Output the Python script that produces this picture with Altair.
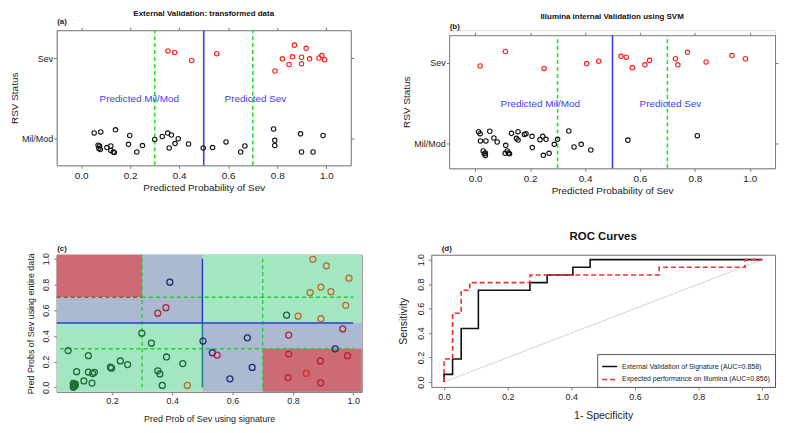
import altair as alt
import pandas as pd

FONT = "Liberation Sans Narrow, Liberation Sans, Arial, sans-serif"
FRAME = "#7a7a7a"
TXT = "#222222"

# ---------------- data ----------------
# (a) External validation
a_sev_x = [0.354, 0.381, 0.451, 0.553, 0.791, 0.821, 0.848, 0.862, 0.870, 0.899, 0.899, 0.918, 0.932, 0.970, 0.982, 0.993]
a_sev_y = [2.088, 2.07, 1.97, 2.054, 1.84, 1.99, 1.92, 2.015, 2.16, 2.01, 1.93, 2.12, 1.99, 2.0, 2.03, 1.98]
a_mil_x = [0.053, 0.080, 0.140, 0.198, 0.069, 0.075, 0.078, 0.072, 0.105, 0.121, 0.121, 0.131, 0.135, 0.193, 0.227, 0.250,
           0.300, 0.331, 0.353, 0.368, 0.359, 0.383, 0.396, 0.438, 0.498, 0.536, 0.591, 0.651, 0.668, 0.785, 0.790, 0.790,
           0.895, 0.899, 0.946, 0.987]
a_mil_y = [1.072, 1.084, 1.11, 1.04, 0.92, 0.91, 0.866, 0.88, 0.89, 0.91, 0.854, 0.835, 0.83, 0.93, 0.835, 0.915,
           0.99, 1.027, 1.07, 1.046, 0.885, 0.94, 1.0, 0.935, 0.885, 0.89, 0.96, 0.835, 0.91, 1.12, 0.98, 0.916,
           1.06, 0.835, 0.835, 1.04]

# (b) Illumina internal validation
b_sev_x = [0.018, 0.110, 0.251, 0.406, 0.450, 0.531, 0.550, 0.572, 0.618, 0.635, 0.729, 0.738, 0.773, 0.841, 0.935, 0.984]
b_sev_y = [1.96, 2.14, 1.93, 1.99, 2.02, 2.08, 2.07, 1.94, 1.975, 2.03, 2.05, 1.975, 2.13, 2.01, 2.09, 2.05]
b_mil_x = [0.012, 0.018, 0.053, 0.019, 0.039, 0.068, 0.080, 0.029, 0.037, 0.037, 0.033, 0.111, 0.109, 0.117, 0.121, 0.125,
           0.132, 0.156, 0.150, 0.156, 0.179, 0.185, 0.207, 0.208, 0.236, 0.246, 0.258, 0.248, 0.269, 0.288, 0.300,
           0.341, 0.360, 0.386, 0.421, 0.556, 0.809]
b_mil_y = [1.145, 1.12, 1.15, 1.03, 1.03, 1.067, 1.017, 0.905, 0.88, 0.85, 0.87, 0.975, 0.876, 0.905, 0.88, 0.87,
           1.124, 1.145, 1.062, 1.042, 1.11, 1.12, 1.087, 0.947, 1.046, 1.087, 1.05, 0.851, 0.876, 0.988, 1.05,
           1.153, 0.955, 0.988, 0.918, 1.04, 1.095]

threshold_x = [0.3, 0.5, 0.7]
threshold_kind = ["dash", "solid", "dash"]
ann_x = [0.237, 0.711]
ann_y = [1.49, 1.49]
ann_text = ["Predicted Mil/Mod", "Predicted Sev"]

# (c) signature vs entire data
c_x = [0.055, 0.122, 0.083, 0.122, 0.136, 0.142, 0.107, 0.134, 0.072, 0.075, 0.079, 0.073, 0.078, 0.072, 0.195, 0.199,
       0.228, 0.252, 0.299, 0.331, 0.381, 0.352, 0.359, 0.367, 0.435, 0.779,
       0.392, 0.502, 0.533, 0.649, 0.591, 0.665, 0.940,
       0.352, 0.379, 0.549, 0.786, 0.786, 0.784, 0.891, 0.892, 0.965, 0.981,
       0.866, 0.911, 0.986, 0.893, 0.926, 0.857, 0.975, 0.817, 0.893, 0.450,
       0.844]
c_y = [0.286, 0.246, 0.122, 0.119, 0.107, 0.117, 0.050, 0.033, 0.030, 0.020, 0.025, 0.008, 0.012, 0.0, 0.157, 0.149,
       0.205, 0.177, 0.421, 0.343, 0.236, 0.129, 0.104, 0.015, 0.185, 0.561,
       0.817, 0.360, 0.269, 0.385, 0.066, 0.155, 0.299,
       0.576, 0.619, 0.251, 0.406, 0.259, 0.076, 0.205, 0.035, 0.454, 0.246,
       0.995, 0.944, 0.848, 0.779, 0.743, 0.736, 0.637, 0.553, 0.533, 0.015,
       0.109]
c_grp = ["g"] * 26 + ["n"] * 7 + ["c"] * 10 + ["o"] * 10 + ["r"]
c_grp_domain = ["g", "n", "c", "o", "r"]
c_grp_colors = ["#1d6b36", "#1f2c6b", "#b52140", "#bb6c2c", "#e6282b"]

XC = [0.017, 1.028]
YC = [-0.035, 1.03]
reg_x1 = [XC[0], 0.3, XC[0], XC[0], 0.5, 0.5, 0.7]
reg_x2 = [0.3, 0.5, 0.3, 0.5, XC[1], XC[1], XC[1]]
reg_y1 = [0.7, 0.5, 0.5, YC[0], 0.5, YC[0], YC[0]]
reg_y2 = [YC[1], YC[1], 0.7, 0.5, YC[1], 0.5, 0.3]
reg_fill = ["#cd6a74", "#abb9d1", "#abb9d1", "#a3e6c1", "#a3e6c1", "#abb9d1", "#cd6a74"]

seg_x1 = [0.3, 0.7, 0.028, XC[0], 0.3, 0.5, 0.5, XC[0]]
seg_x2 = [0.3, 0.7, 1.0, 0.3, 1.0, 0.5, 0.5, 1.0]
seg_y1 = [0.0, 0.0, 0.3, 0.7, 0.7, 0.5, 0.0, 0.5]
seg_y2 = [YC[1], 1.0, 0.3, 0.7, 0.7, 1.0, 0.5, 0.5]
seg_col = ["#22cc33", "#22cc33", "#22cc33", "#8a6030", "#22cc33", "#2a3ed0", "#1f7f86", "#2a3ed0"]
seg_kind = ["dash", "dash", "dash", "dash", "dash", "solid", "solid", "solid"]

# (d) ROC curves
roc_names = ["External Validation of Signature (AUC=0.858)", "Expected performance on Illumina (AUC=0.856)"]
roc_ext_fpr = [0, 0, 0.027, 0.027, 0.054, 0.054, 0.108, 0.108, 0.270, 0.270, 0.324, 0.324, 0.405, 0.405, 0.459, 0.459, 1.0]
roc_ext_tpr = [0, 0.0625, 0.0625, 0.1875, 0.1875, 0.4375, 0.4375, 0.75, 0.75, 0.8125, 0.8125, 0.875, 0.875, 0.9375, 0.9375, 1.0, 1.0]
roc_ill_fpr = [0, 0, 0.027, 0.027, 0.054, 0.054, 0.081, 0.081, 0.270, 0.270, 0.676, 0.676, 0.946, 0.946, 1.0]
roc_ill_tpr = [0, 0.1875, 0.1875, 0.5625, 0.5625, 0.75, 0.75, 0.8125, 0.8125, 0.875, 0.875, 0.9375, 0.9375, 1.0, 1.0]
diag = [0.0, 1.0]

ticks01 = [0, 0.2, 0.4, 0.6, 0.8, 1.0]

# ---------------- layout ----------------
WA, HA = 296, 136
WB, HB, TOPB = 328, 139, 5
S1 = 99
WC, HC = 307, 138
WD, HD = 346, 133
S2 = 70
V = 35


def ax(orient, **kw):
    base = dict(orient=orient, domainColor=FRAME, tickColor=FRAME, tickSize=3, labelColor=TXT,
                titleColor=TXT, labelFont=FONT, titleFont=FONT, grid=False, titleFontWeight="normal")
    base.update(kw)
    return alt.Axis(**base)


def strip_panel(sev_x, sev_y, mil_x, mil_y, XD, YD, W, H, yrange, top_off, letter, title, title_off):
    xs = alt.Scale(domain=XD, nice=False, zero=False)
    if yrange is None:
        ys = alt.Scale(domain=YD, nice=False, zero=False)
    else:
        ys = alt.Scale(domain=YD, nice=False, zero=False, range=yrange)
    df = pd.DataFrame({"x": sev_x + mil_x, "y": sev_y + mil_y,
                       "grp": ["Sev"] * len(sev_x) + ["Mil/Mod"] * len(mil_x)})
    dfl = pd.DataFrame({"x": threshold_x, "k": threshold_kind,
                        "y1": [YD[0]] * 3, "y2": [YD[1]] * 3})
    dfa = pd.DataFrame({"x": ann_x, "y": ann_y, "t": ann_text})

    dash = alt.Chart(dfl).transform_filter("datum.k == 'dash'").mark_rule(
        color="#22e022", strokeDash=[4, 3], strokeWidth=1.6).encode(
        x=alt.X("x:Q", scale=xs, axis=None), y=alt.Y("y1:Q", scale=ys, axis=None), y2="y2:Q")
    solid = alt.Chart(dfl).transform_filter("datum.k == 'solid'").mark_rule(
        color="#3b3bff", strokeWidth=1.6).encode(
        x=alt.X("x:Q", scale=xs, axis=None), y=alt.Y("y1:Q", scale=ys, axis=None), y2="y2:Q")
    pts = alt.Chart(df).mark_point(filled=False, size=20, strokeWidth=1.1, opacity=1).encode(
        x=alt.X("x:Q", scale=xs, axis=ax("bottom", values=ticks01, format=".1f",
                                            title="Predicted Probability of Sev", labelFontSize=10,
                                            titleFontSize=10, labelPadding=2, titlePadding=2)),
        y=alt.Y("y:Q", scale=ys, axis=ax("left", values=[1, 2],
                                            labelExpr="datum.value > 1.5 ? 'Sev' : 'Mil/Mod'",
                                            title="RSV Status", labelFontSize=9, titleFontSize=10,
                                            labelPadding=1, titlePadding=2)),
        color=alt.Color("grp:N", scale=alt.Scale(domain=["Sev", "Mil/Mod"], range=["#ff1a1a", "#111111"]),
                        legend=None))
    txt = alt.Chart(dfa).mark_text(color="#3c3cff", fontSize=10, font=FONT).encode(
        x=alt.X("x:Q", scale=xs, axis=None), y=alt.Y("y:Q", scale=ys, axis=None), text="t:N")
    frame = alt.Chart(df).mark_point(opacity=0).encode(
        x=alt.X("x:Q", scale=xs, axis=ax("top", values=ticks01, labels=False, title=letter,
                                            titleAnchor="start", titleFontSize=8, titleFontWeight="bold",
                                            titlePadding=1, offset=top_off)),
        y=alt.Y("y:Q", scale=ys, axis=ax("right", values=[1, 2], labels=False, title=None)))
    return alt.layer(dash, solid, pts, txt, frame).resolve_axis(
        x="independent", y="independent").properties(
        width=W, height=H,
        title=alt.TitleParams(title, fontSize=8, fontWeight="bold", font=FONT, anchor="middle",
                              offset=title_off, color="#111111"))


panel_a = strip_panel(a_sev_x, a_sev_y, a_mil_x, a_mil_y, [-0.1, 1.1], [0.67, 2.345], WA, HA, None, 0,
                      "(a)", "External Validation: transformed data", 0)
panel_b = strip_panel(b_sev_x, b_sev_y, b_mil_x, b_mil_y, [-0.095, 1.092], [0.69, 2.343], WB, HB,
                      [HB, TOPB], -TOPB, "(b)", "Illumina internal Validation using SVM", 2)

# ---- panel c ----
xsc = alt.Scale(domain=XC, nice=False, zero=False)
ysc = alt.Scale(domain=YC, nice=False, zero=False)
df_reg = pd.DataFrame({"x1": reg_x1, "x2": reg_x2, "y1": reg_y1, "y2": reg_y2, "f": reg_fill})
df_seg = pd.DataFrame({"x1": seg_x1, "x2": seg_x2, "y1": seg_y1, "y2": seg_y2, "c": seg_col, "k": seg_kind})
df_c = pd.DataFrame({"x": c_x, "y": c_y, "g": c_grp})

rects = alt.Chart(df_reg).mark_rect(strokeWidth=0).encode(
    x=alt.X("x1:Q", scale=xsc, axis=None), x2="x2:Q",
    y=alt.Y("y1:Q", scale=ysc, axis=None), y2="y2:Q",
    fill=alt.Fill("f:N", scale=None))
seg_d = alt.Chart(df_seg).transform_filter("datum.k == 'dash'").mark_rule(
    strokeDash=[4, 3], strokeWidth=1.3).encode(
    x=alt.X("x1:Q", scale=xsc, axis=None), x2="x2:Q",
    y=alt.Y("y1:Q", scale=ysc, axis=None), y2="y2:Q",
    stroke=alt.Stroke("c:N", scale=None))
seg_s = alt.Chart(df_seg).transform_filter("datum.k == 'solid'").mark_rule(strokeWidth=1.5).encode(
    x=alt.X("x1:Q", scale=xsc, axis=None), x2="x2:Q",
    y=alt.Y("y1:Q", scale=ysc, axis=None), y2="y2:Q",
    stroke=alt.Stroke("c:N", scale=None))
pts_c = alt.Chart(df_c).mark_point(filled=False, size=36, strokeWidth=1.3, opacity=1).encode(
    x=alt.X("x:Q", scale=xsc, axis=ax("bottom", values=[0.2, 0.4, 0.6, 0.8, 1.0], format=".1f",
                                         title="Pred Prob of Sev using signature", labelFontSize=9,
                                         titleFontSize=9, labelPadding=2, titlePadding=9)),
    y=alt.Y("y:Q", scale=ysc, axis=ax("left", values=ticks01, format=".1f", labelAngle=270,
                                         labelAlign="center", labelBaseline="bottom",
                                         title="Pred Probs of Sev using entire data", labelFontSize=9,
                                         titleFontSize=9, labelPadding=3, titlePadding=6)),
    stroke=alt.Stroke("g:N", scale=alt.Scale(domain=c_grp_domain, range=c_grp_colors), legend=None))
frame_c = alt.Chart(df_c).mark_point(opacity=0).encode(
    x=alt.X("x:Q", scale=xsc, axis=ax("top", ticks=False, labels=False, title="(c)", titleAnchor="start",
                                         titleFontSize=8, titleFontWeight="bold", titlePadding=2)),
    y=alt.Y("y:Q", scale=ysc, axis=ax("right", ticks=False, labels=False, title=None)))
panel_c = alt.layer(rects, seg_d, seg_s, pts_c, frame_c).resolve_axis(
    x="independent", y="independent").properties(width=WC, height=HC)

# ---- panel d ----
XDd = [-0.04, 1.04]
xsd = alt.Scale(domain=XDd, nice=False, zero=False)
ysd = alt.Scale(domain=XDd, nice=False, zero=False)
df_roc = pd.DataFrame({
    "fpr": roc_ext_fpr + roc_ill_fpr,
    "tpr": roc_ext_tpr + roc_ill_tpr,
    "s": [roc_names[0]] * len(roc_ext_fpr) + [roc_names[1]] * len(roc_ill_fpr),
    "i": list(range(len(roc_ext_fpr))) + list(range(len(roc_ill_fpr))),
})
df_diag = pd.DataFrame({"x": diag, "y": diag})

leg = dict(orient="bottom-right", offset=0, title=None, fillColor="#ffffff", strokeColor="#555555",
           padding=4, labelFontSize=7, labelFont=FONT, labelColor=TXT, symbolType="stroke",
           symbolSize=225, symbolStrokeWidth=1.5, labelLimit=300, rowPadding=1, labelOffset=4)
diag_line = alt.Chart(df_diag).mark_line(color="#d3d3d3", strokeWidth=1).encode(
    x=alt.X("x:Q", scale=xsd, axis=None), y=alt.Y("y:Q", scale=ysd, axis=None))
roc_lines = alt.Chart(df_roc).mark_line(strokeWidth=1.6).encode(
    x=alt.X("fpr:Q", scale=xsd, axis=ax("bottom", values=ticks01, format=".1f", title="1- Specificity",
                                           labelFontSize=9, titleFontSize=10.5, labelPadding=3,
                                           titlePadding=9)),
    y=alt.Y("tpr:Q", scale=ysd, axis=ax("left", values=ticks01, format=".1f", labelAngle=270,
                                           labelAlign="center", labelBaseline="bottom",
                                           title="Sensitivity", labelFontSize=9, titleFontSize=10.5,
                                           labelPadding=3, titlePadding=8)),
    color=alt.Color("s:N", scale=alt.Scale(domain=roc_names, range=["#111111", "#ff2a2a"]),
                    legend=alt.Legend(**leg)),
    strokeDash=alt.StrokeDash("s:N", scale=alt.Scale(domain=roc_names, range=[[1, 0], [5, 3]]),
                              legend=alt.Legend(**leg)),
    order="i:Q")
frame_d = alt.Chart(df_diag).mark_point(opacity=0).encode(
    x=alt.X("x:Q", scale=xsd, axis=ax("top", ticks=False, labels=False, title="(d)", titleAnchor="start",
                                         titleFontSize=8, titleFontWeight="bold", titlePadding=2,
                                         titleX=10)),
    y=alt.Y("y:Q", scale=ysd, axis=ax("right", ticks=False, labels=False, title=None)))
panel_d = alt.layer(diag_line, roc_lines, frame_d).resolve_axis(
    x="independent", y="independent").properties(
    width=WD, height=HD,
    title=alt.TitleParams("ROC Curves", fontSize=11.5, fontWeight="bold", font=FONT, anchor="middle",
                          offset=2, color="#111111"))

RES = dict(color="independent", stroke="independent", fill="independent", strokeDash="independent")
row1 = alt.hconcat(panel_a, panel_b, spacing=S1, bounds="flush").resolve_scale(**RES).resolve_legend(**RES)
row2 = alt.hconcat(panel_c, panel_d, spacing=S2, bounds="flush").resolve_scale(**RES).resolve_legend(**RES)
chart = alt.vconcat(row1, row2, spacing=V).resolve_scale(**RES).resolve_legend(**RES).properties(
    padding={"left": 0, "top": 0, "right": 0, "bottom": 0}
).configure_view(strokeWidth=0).configure(font=FONT).configure_legend(offset=0)

chart.save("out.html", embed_options={"renderer": "svg", "actions": False})
